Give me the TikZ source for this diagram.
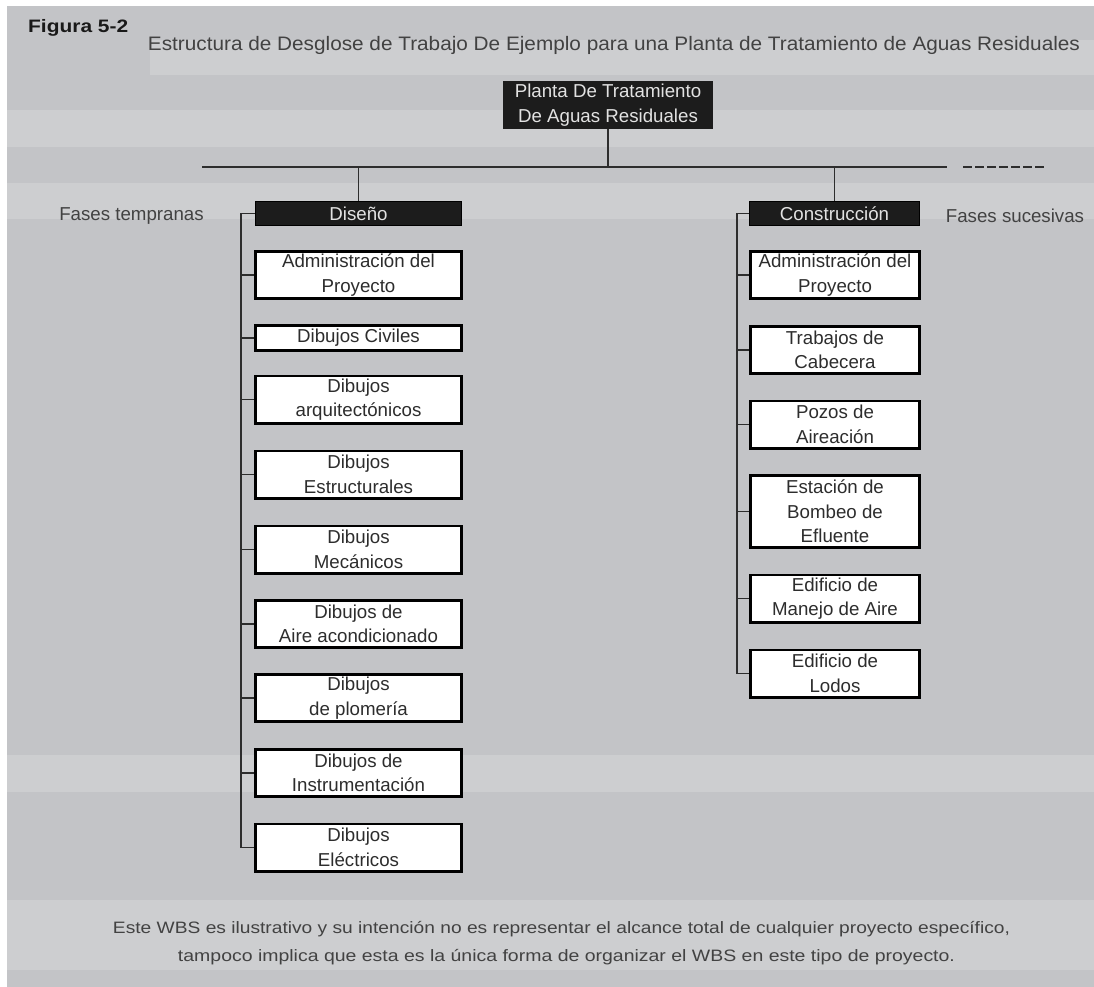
\documentclass[tikz,border=0pt]{standalone}
\usepackage{fontspec}
\setmainfont{Liberation Sans}
\usepackage{graphicx}
\definecolor{bg}{RGB}{195,196,199}
\definecolor{bgl}{RGB}{205,206,208}
\definecolor{ink}{RGB}{45,45,45}
\definecolor{softink}{RGB}{66,66,66}
\definecolor{boxblack}{RGB}{28,28,28}
\definecolor{headtext}{RGB}{226,226,226}
\begin{document}
\begin{tikzpicture}[x=1pt,y=-1pt,
  base/.style={font=\fontsize{18.7}{24.5}\selectfont, align=center, inner sep=0pt},
  wbox/.style={base, draw=black, line width=2.6pt, fill=white, text=ink},
  lbox/.style={wbox, minimum width=206.4pt, minimum height=47.4pt},
  rbox/.style={wbox, minimum width=169.4pt, minimum height=47.4pt},
  hbox/.style={base, draw=black, line width=0.8pt, fill=boxblack, text=headtext, minimum height=24pt},
  link/.style={draw=ink, line width=1.4pt},
  label/.style={base, text=softink}]
\useasboundingbox (0,0) rectangle (1094,987);
% page background with its lighter bands
\fill[white] (0,0) rectangle (1094,987);
\fill[bg] (7,6) rectangle (1094,987);
\fill[bgl] (150,40) rectangle (1094,75);
\fill[bgl] (7,110) rectangle (1094,147);
\fill[bgl] (7,183) rectangle (1094,219);
\fill[bgl] (7,755) rectangle (1094,792);
\fill[bgl] (7,900) rectangle (1094,970);

% heading
\node[anchor=west, inner sep=0pt, text=black!90] (fig) at (28,28)
  {\resizebox{100pt}{\height}{\bfseries\fontsize{18}{18}\selectfont Figura 5-2}};
\node[inner sep=0pt, text=softink] (title) at (614,45)
  {\resizebox{932pt}{\height}{\fontsize{19.5}{19.5}\selectfont Estructura de Desglose de Trabajo De Ejemplo para una Planta de Tratamiento de Aguas Residuales}};

% top of the tree
\node[hbox, minimum width=210pt, minimum height=48pt, draw=none] (root) at (608,105)
  {Planta De Tratamiento\\De Aguas Residuales};
\coordinate (busL) at (202,167);
\coordinate (busR) at (947,167);
\coordinate (dashL) at (963,167);
\coordinate (dashR) at (1046,167);

\node[hbox, minimum width=206pt] (dis) at (358.5,213.5) {Diseño};
\node[hbox, minimum width=170pt] (con) at (834.5,213.5) {Construcción};

\node[label] (early) at (131.5,216) {Fases tempranas};
\node[label] (late) at (1015,216) {Fases sucesivas};

% design branch
\node[lbox] (d1) at (358.5,275) {Administración del\\Proyecto};
\node[lbox, minimum height=25.4pt] (d2) at (358.5,338) {Dibujos Civiles};
\node[lbox] (d3) at (358.5,399.5) {Dibujos\\arquitectónicos};
\node[lbox] (d4) at (358.5,474.5) {Dibujos\\Estructurales};
\node[lbox] (d5) at (358.5,549.5) {Dibujos\\Mecánicos};
\node[lbox] (d6) at (358.5,624) {Dibujos de\\Aire acondicionado};
\node[lbox] (d7) at (358.5,698) {Dibujos\\de plomería};
\node[lbox] (d8) at (358.5,773) {Dibujos de\\Instrumentación};
\node[lbox] (d9) at (358.5,847.5) {Dibujos\\Eléctricos};

% construction branch
\node[rbox] (c1) at (835,275) {Administración del\\Proyecto};
\node[rbox] (c2) at (835,350) {Trabajos de\\Cabecera};
\node[rbox] (c3) at (835,424.5) {Pozos de\\Aireación};
\node[rbox, minimum height=72.4pt] (c4) at (835,511.5) {Estación de\\Bombeo de\\Efluente};
\node[rbox] (c5) at (835,598.5) {Edificio de\\Manejo de Aire};
\node[rbox] (c6) at (835,673.5) {Edificio de\\Lodos};

% connectors
\coordinate (sL) at (241,0);
\coordinate (sR) at (737,0);
\draw[link] (root.south) -- (root.south |- busL);
\draw[link] (busL) -- (busR);
\draw[link, dash pattern=on 8.5pt off 3.5pt] (dashL) -- (dashR);
\draw[link] (dis.north |- busL) -- (dis.north);
\draw[link] (con.north |- busL) -- (con.north);

\draw[link] (dis.west) -- (dis.west -| sL) -- (d9.west -| sL) -- (d9.west);
\foreach \n in {d1,d2,d3,d4,d5,d6,d7,d8}
  \draw[link] (\n.west -| sL) -- (\n.west);

\draw[link] (con.west) -- (con.west -| sR) -- (c6.west -| sR) -- (c6.west);
\foreach \n in {c1,c2,c3,c4,c5}
  \draw[link] (\n.west -| sR) -- (\n.west);

% closing note
\node[inner sep=0pt, text=softink] (note1) at (561.5,929)
  {\resizebox{897pt}{\height}{\fontsize{16.5}{16.5}\selectfont Este WBS es ilustrativo y su intención no es representar el alcance total de cualquier proyecto específico,}};
\node[inner sep=0pt, text=softink] (note2) at (566.5,957)
  {\resizebox{777pt}{\height}{\fontsize{16.5}{16.5}\selectfont tampoco implica que esta es la única forma de organizar el WBS en este tipo de proyecto.}};
\end{tikzpicture}
\end{document}
